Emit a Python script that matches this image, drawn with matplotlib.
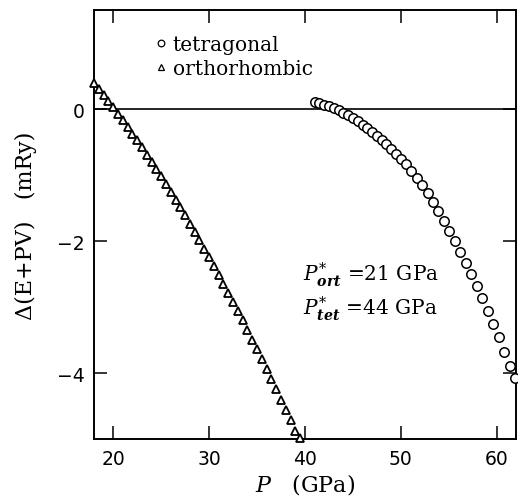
import matplotlib
matplotlib.use("Agg")
import matplotlib.pyplot as plt

# ── Data ─────────────────────────────────────────────────────────────────────
p_ort = [18.0, 18.5, 19.0, 19.5, 20.0, 20.5, 21.0, 21.5, 22.0, 22.5,
         23.0, 23.5, 24.0, 24.5, 25.0, 25.5, 26.0, 26.5, 27.0, 27.5,
         28.0, 28.5, 29.0, 29.5, 30.0, 30.5, 31.0, 31.5, 32.0, 32.5,
         33.0, 33.5, 34.0, 34.5, 35.0, 35.5, 36.0, 36.5, 37.0, 37.5,
         38.0, 38.5, 39.0, 39.5]
de_ort = [0.400, 0.310, 0.218, 0.124, 0.028, -0.069, -0.168, -0.269, -0.371, -0.475,
          -0.581, -0.689, -0.798, -0.909, -1.022, -1.137, -1.253, -1.371, -1.490, -1.612,
          -1.735, -1.860, -1.986, -2.115, -2.245, -2.377, -2.510, -2.645, -2.782, -2.921,
          -3.061, -3.203, -3.347, -3.493, -3.640, -3.789, -3.940, -4.092, -4.247, -4.402,
          -4.560, -4.719, -4.881, -4.990]

p_tet = [41.0, 41.5, 42.0, 42.5, 43.0, 43.5, 44.0, 44.5, 45.0, 45.5,
         46.0, 46.5, 47.0, 47.5, 48.0, 48.5, 49.0, 49.5, 50.0, 50.5,
         51.07, 51.64, 52.21, 52.78, 53.35, 53.92, 54.49, 55.06, 55.63, 56.2,
         56.77, 57.34, 57.91, 58.48, 59.05, 59.62, 60.19, 60.76, 61.33, 61.9]
de_tet = [0.110, 0.091, 0.068, 0.042, 0.013, -0.020, -0.056, -0.096, -0.139, -0.185,
          -0.235, -0.288, -0.344, -0.404, -0.467, -0.533, -0.603, -0.676, -0.753, -0.833,
          -0.933, -1.038, -1.152, -1.275, -1.406, -1.546, -1.691, -1.842, -1.999, -2.161,
          -2.329, -2.503, -2.683, -2.868, -3.059, -3.256, -3.461, -3.675, -3.897, -4.080]

x_ticks = [20, 30, 40, 50, 60]
y_ticks = [0, -2, -4]
notes = [r"$P^{*}_{\mathbfit{ort}}$ =21 GPa", r"$P^{*}_{\mathbfit{tet}}$ =44 GPa"]

plt.rcParams["font.family"] = ["DejaVu Serif"]
plt.rcParams["mathtext.fontset"] = "dejavuserif"

fig = plt.figure(figsize=(5.18, 5.02), dpi=100)
ax = fig.add_axes([0.1815, 0.1235, 0.8145, 0.8545])

ax.axhline(0, color="black", lw=1.2, zorder=1)

ax.plot(p_tet, de_tet, ls="none", marker="o", ms=6.8, mfc="white",
        mec="black", mew=1.1, label="tetragonal", clip_on=False, zorder=3)
ax.plot(p_ort, de_ort, ls="none", marker="^", ms=5.6, mfc="white",
        mec="black", mew=1.3, label="orthorhombic", clip_on=False, zorder=3)

ax.set_xlim(18, 62)
ax.set_ylim(-5, 1.5)
ax.set_xticks(x_ticks)
ax.set_yticks(y_ticks)
ax.tick_params(direction="in", length=9.5, width=1.1, top=True, right=True,
               labelsize=13.5, pad=7)
for lab in ax.get_xticklabels() + ax.get_yticklabels():
    lab.set_fontfamily("DejaVu Sans")
for s in ax.spines.values():
    s.set_linewidth(1.4)

ax.set_xlabel(r"$P$   (GPa)", fontsize=16, labelpad=2)
ax.set_ylabel("Δ(E+PV)   (mRy)", fontsize=16, labelpad=14)

leg = ax.legend(loc="upper left", bbox_to_anchor=(0.11, 0.975), frameon=False,
                markerscale=0.7, handlelength=0.6, handletextpad=0.3,
                labelspacing=0.25, fontsize=14.5, borderpad=0.2)
for h in leg.legend_handles:
    h.set_markeredgewidth(0.9)

ax.text(0.495, 0.37, notes[0], transform=ax.transAxes, fontsize=14.5)
ax.text(0.495, 0.292, notes[1], transform=ax.transAxes, fontsize=14.5)

fig.savefig("out.png", dpi=100)
